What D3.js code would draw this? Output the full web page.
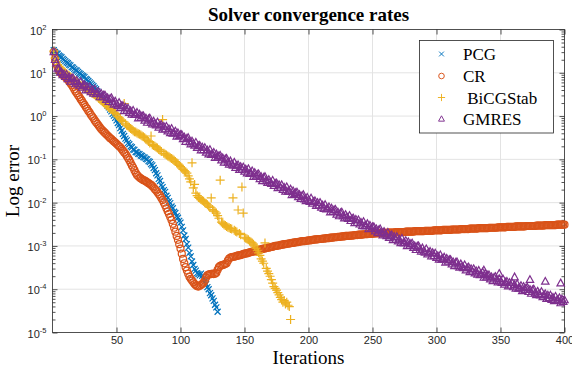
<!DOCTYPE html>
<html><head><meta charset="utf-8">
<script src="https://cdn.jsdelivr.net/npm/d3@7"></script>
<style>body{margin:0;background:#fff} svg{display:block}</style>
</head><body>
<script>
// Iteration ticks, decade ticks and series definitions
const iterTicks = [50, 100, 150, 200, 250, 300, 350, 400];
const decadeTicks = [-5, -4, -3, -2, -1, 0, 1, 2];
const seriesNames = ["PCG", "CR", " BiCGStab", "GMRES"];
const seriesColors = ["#0072BD", "#D95319", "#EDB120", "#7E2F8E"];

// log10 of the error at iterations 1, 2, 3, ...
const pcgLog = [
  1.52, 1.48, 1.45, 1.44, 1.40, 1.38, 1.36, 1.32, 1.30, 1.27,
  1.24, 1.22, 1.19, 1.17, 1.13, 1.12, 1.09, 1.06, 1.05, 1.02,
  0.99, 0.97, 0.94, 0.92, 0.90, 0.86, 0.84, 0.81, 0.78, 0.75,
  0.72, 0.69, 0.65, 0.62, 0.57, 0.54, 0.49, 0.46, 0.41, 0.37,
  0.33, 0.29, 0.24, 0.20, 0.15, 0.11, 0.05, 0.01, -0.04, -0.10,
  -0.16, -0.21, -0.28, -0.34, -0.41, -0.46, -0.52, -0.56, -0.62, -0.65,
  -0.70, -0.72, -0.77, -0.78, -0.83, -0.84, -0.87, -0.88, -0.91, -0.92,
  -0.95, -0.96, -0.99, -1.00, -1.04, -1.06, -1.11, -1.14, -1.20, -1.25,
  -1.32, -1.37, -1.45, -1.50, -1.59, -1.64, -1.71, -1.75, -1.84, -1.89,
  -1.97, -2.01, -2.09, -2.13, -2.21, -2.24, -2.31, -2.35, -2.42, -2.46,
  -2.56, -2.64, -2.76, -2.84, -2.96, -3.04, -3.16, -3.24, -3.36, -3.44,
  -3.53, -3.57, -3.63, -3.65, -3.68, -3.64, -3.69, -3.75, -3.82, -3.88,
  -3.95, -4.00, -4.09, -4.14, -4.21, -4.27, -4.36, -4.42, -4.52
];

const crLog = [
  1.48, 1.32, 1.20, 1.12, 1.06, 1.02, 0.98, 0.95, 0.93, 0.90,
  0.87, 0.84, 0.80, 0.76, 0.72, 0.67, 0.62, 0.57, 0.53, 0.48,
  0.44, 0.39, 0.35, 0.30, 0.26, 0.21, 0.17, 0.12, 0.08, 0.03,
  -0.01, -0.05, -0.10, -0.14, -0.18, -0.22, -0.26, -0.30, -0.33, -0.36,
  -0.39, -0.42, -0.45, -0.48, -0.51, -0.53, -0.56, -0.59, -0.61, -0.64,
  -0.67, -0.70, -0.72, -0.76, -0.80, -0.84, -0.87, -0.92, -0.97, -1.02,
  -1.08, -1.14, -1.19, -1.25, -1.31, -1.36, -1.39, -1.42, -1.44, -1.46,
  -1.48, -1.49, -1.51, -1.53, -1.55, -1.57, -1.59, -1.62, -1.65, -1.69,
  -1.72, -1.76, -1.80, -1.84, -1.89, -1.94, -2.00, -2.06, -2.13, -2.20,
  -2.26, -2.33, -2.40, -2.49, -2.58, -2.67, -2.77, -2.86, -2.96, -3.06,
  -3.18, -3.30, -3.40, -3.49, -3.57, -3.64, -3.71, -3.76, -3.80, -3.84,
  -3.88, -3.91, -3.93, -3.94, -3.92, -3.90, -3.88, -3.85, -3.80, -3.73,
  -3.68, -3.66, -3.65, -3.65, -3.64, -3.65, -3.64, -3.62, -3.55, -3.49,
  -3.46, -3.45, -3.44, -3.43, -3.42, -3.40, -3.34, -3.29, -3.27, -3.26,
  -3.25, -3.25, -3.24, -3.23, -3.22, -3.22, -3.21, -3.20, -3.19, -3.18,
  -3.17, -3.17, -3.16, -3.15, -3.14, -3.13, -3.13, -3.12, -3.11, -3.10,
  -3.09, -3.09, -3.08, -3.07, -3.06, -3.06, -3.05, -3.04, -3.04, -3.03,
  -3.02, -3.02, -3.01, -3.00, -3.00, -2.99, -2.99, -2.98, -2.97, -2.97,
  -2.96, -2.96, -2.95, -2.95, -2.94, -2.94, -2.93, -2.93, -2.92, -2.92,
  -2.91, -2.91, -2.90, -2.90, -2.89, -2.89, -2.89, -2.88, -2.88, -2.87,
  -2.87, -2.87, -2.86, -2.86, -2.85, -2.85, -2.85, -2.84, -2.84, -2.84,
  -2.83, -2.83, -2.83, -2.82, -2.82, -2.82, -2.81, -2.81, -2.81, -2.80,
  -2.80, -2.80, -2.79, -2.79, -2.79, -2.78, -2.78, -2.78, -2.77, -2.77,
  -2.77, -2.77, -2.76, -2.76, -2.76, -2.75, -2.75, -2.75, -2.74, -2.74,
  -2.74, -2.74, -2.73, -2.73, -2.73, -2.73, -2.72, -2.72, -2.72, -2.72,
  -2.71, -2.71, -2.71, -2.70, -2.71, -2.70, -2.70, -2.70, -2.70, -2.70,
  -2.70, -2.69, -2.69, -2.69, -2.69, -2.69, -2.69, -2.68, -2.69, -2.68,
  -2.68, -2.68, -2.68, -2.68, -2.68, -2.67, -2.67, -2.67, -2.67, -2.67,
  -2.67, -2.67, -2.66, -2.66, -2.66, -2.66, -2.66, -2.66, -2.66, -2.66,
  -2.65, -2.65, -2.65, -2.65, -2.65, -2.65, -2.65, -2.64, -2.64, -2.64,
  -2.64, -2.64, -2.64, -2.64, -2.63, -2.63, -2.63, -2.63, -2.63, -2.63,
  -2.63, -2.62, -2.62, -2.62, -2.62, -2.62, -2.62, -2.62, -2.61, -2.61,
  -2.61, -2.61, -2.61, -2.61, -2.61, -2.60, -2.60, -2.60, -2.60, -2.60,
  -2.60, -2.60, -2.59, -2.59, -2.59, -2.59, -2.59, -2.59, -2.59, -2.59,
  -2.58, -2.58, -2.58, -2.58, -2.58, -2.58, -2.58, -2.57, -2.57, -2.57,
  -2.57, -2.57, -2.57, -2.57, -2.56, -2.56, -2.56, -2.56, -2.56, -2.56,
  -2.56, -2.55, -2.55, -2.55, -2.55, -2.55, -2.55, -2.55, -2.55, -2.54,
  -2.54, -2.54, -2.54, -2.54, -2.54, -2.54, -2.54, -2.53, -2.53, -2.53,
  -2.53, -2.53, -2.53, -2.53, -2.52, -2.52, -2.52, -2.52, -2.52, -2.52,
  -2.52, -2.52, -2.52, -2.51, -2.51, -2.51, -2.51, -2.51, -2.51, -2.51
];

const bicgLog = [
  1.50, 1.34, 1.25, 1.19, 1.15, 1.11, 1.08, 1.05, 1.03, 1.00,
  0.98, 0.95, 0.93, 0.90, 0.88, 0.86, 0.83, 0.81, 0.78, 0.76,
  0.74, 0.71, 0.69, 0.67, 0.65, 0.63, 0.61, 0.59, 0.57, 0.55,
  0.53, 0.51, 0.49, 0.47, 0.44, 0.41, 0.39, 0.36, 0.33, 0.31,
  0.28, 0.25, 0.23, 0.20, 0.17, 0.15, 0.12, 0.09, 0.06, 0.03,
  -0.01, -0.04, -0.07, -0.10, -0.13, 0.29, -0.18, -0.21, -0.23, -0.26,
  -0.29, -0.31, -0.34, -0.36, -0.37, -0.39, -0.41, -0.42, -0.44, -0.46,
  -0.48, -0.50, -0.53, -0.56, -0.59, -0.62, -0.46, -0.66, -0.68, -0.70,
  -0.72, -0.74, -0.77, -0.79, -0.82, -0.08, -0.86, -0.88, -0.90, -0.92,
  -0.94, -0.96, -0.98, -1.00, -1.02, -1.05, -1.08, -1.11, -1.14, -1.17,
  -1.20, -1.23, -1.26, -1.29, -1.32, -1.38, -1.45, -1.52, -1.08, -1.66,
  -1.58, -1.78, -1.84, -1.88, -1.90, -1.93, -1.95, -1.97, -2.00, -2.02,
  -2.05, -2.08, -2.11, -1.89, -2.16, -2.19, -2.21, -2.24, -2.30, -2.36,
  -1.48, -2.45, -2.48, -2.51, -2.53, -2.55, -2.57, -2.58, -2.60, -2.61,
  -1.89, -2.64, -2.66, -2.68, -2.17, -2.71, -2.74, -1.64, -2.24, -2.80,
  -2.82, -2.84, -2.86, -2.89, -2.91, -2.93, -2.96, -3.00, -3.05, -3.10,
  -3.16, -3.22, -3.30, -3.35, -3.40, -2.93, -3.52, -3.58, -3.64, -3.70,
  -3.78, -3.86, -3.94, -3.98, -4.02, -4.08, -4.13, -4.19, -4.24, -4.30,
  -4.26, -4.34, -4.30, -4.37, -4.40, -4.70
];

const gmresLog = [
  1.48, 1.30, 1.22, 1.10, 1.08, 1.01, 1.02, 0.95, 0.97, 0.91,
  0.96, 0.86, 0.90, 0.80, 0.87, 0.88, 0.79, 0.74, 0.82, 0.75,
  0.71, 0.79, 0.66, 0.71, 0.72, 0.60, 0.68, 0.61, 0.67, 0.56,
  0.61, 0.52, 0.62, 0.51, 0.52, 0.56, 0.44, 0.52, 0.44, 0.48,
  0.48, 0.38, 0.42, 0.33, 0.40, 0.42, 0.32, 0.27, 0.34, 0.28,
  0.24, 0.31, 0.19, 0.23, 0.24, 0.12, 0.20, 0.13, 0.18, 0.08,
  0.12, 0.04, 0.13, 0.03, 0.03, 0.08, -0.05, 0.04, -0.04, 0.00,
  0.00, -0.10, -0.05, -0.15, -0.07, -0.05, -0.15, -0.19, -0.12, -0.18,
  -0.21, -0.14, -0.26, -0.21, -0.20, -0.31, -0.24, -0.30, -0.24, -0.35,
  -0.30, -0.39, -0.29, -0.40, -0.39, -0.35, -0.47, -0.39, -0.46, -0.43,
  -0.43, -0.53, -0.49, -0.59, -0.52, -0.50, -0.60, -0.65, -0.58, -0.64,
  -0.68, -0.61, -0.73, -0.69, -0.68, -0.79, -0.72, -0.78, -0.73, -0.84,
  -0.79, -0.88, -0.78, -0.89, -0.88, -0.84, -0.96, -0.88, -0.95, -0.92,
  -0.91, -1.02, -0.97, -1.07, -0.99, -0.98, -1.07, -1.12, -1.04, -1.11,
  -1.14, -1.07, -1.19, -1.14, -1.13, -1.24, -1.17, -1.23, -1.18, -1.28,
  -1.23, -1.32, -1.22, -1.33, -1.32, -1.27, -1.40, -1.31, -1.39, -1.35,
  -1.34, -1.45, -1.40, -1.50, -1.42, -1.40, -1.50, -1.54, -1.47, -1.53,
  -1.56, -1.49, -1.61, -1.56, -1.55, -1.66, -1.59, -1.65, -1.59, -1.70,
  -1.65, -1.74, -1.64, -1.74, -1.74, -1.69, -1.82, -1.73, -1.80, -1.77,
  -1.76, -1.87, -1.82, -1.91, -1.84, -1.82, -1.92, -1.96, -1.88, -1.94,
  -1.98, -1.90, -2.02, -1.98, -1.96, -2.07, -2.00, -2.06, -2.00, -2.11,
  -2.06, -2.14, -2.05, -2.15, -2.14, -2.10, -2.22, -2.13, -2.21, -2.17,
  -2.16, -2.27, -2.22, -2.31, -2.24, -2.22, -2.31, -2.36, -2.28, -2.34,
  -2.37, -2.30, -2.42, -2.37, -2.36, -2.47, -2.39, -2.46, -2.40, -2.50,
  -2.46, -2.54, -2.44, -2.54, -2.54, -2.49, -2.61, -2.53, -2.60, -2.56,
  -2.56, -2.66, -2.61, -2.70, -2.63, -2.61, -2.70, -2.75, -2.67, -2.73,
  -2.77, -2.69, -2.81, -2.77, -2.75, -2.86, -2.79, -2.85, -2.79, -2.89,
  -2.85, -2.93, -2.83, -2.93, -2.93, -2.88, -3.00, -2.91, -2.99, -2.95,
  -2.94, -3.04, -3.00, -3.09, -3.01, -3.00, -3.09, -3.13, -3.05, -3.12,
  -3.15, -3.07, -3.19, -3.15, -3.13, -3.24, -3.16, -3.23, -3.17, -3.27,
  -3.23, -3.31, -3.21, -3.31, -3.30, -3.26, -3.38, -3.29, -3.36, -3.32,
  -3.32, -3.42, -3.37, -3.46, -3.38, -3.37, -3.46, -3.50, -3.42, -3.48,
  -3.51, -3.44, -3.56, -3.51, -3.49, -3.60, -3.53, -3.59, -3.53, -3.63,
  -3.58, -3.66, -3.57, -3.67, -3.66, -3.61, -3.73, -3.64, -3.72, -3.68,
  -3.67, -3.77, -3.72, -3.81, -3.73, -3.71, -3.80, -3.84, -3.76, -3.82,
  -3.85, -3.77, -3.89, -3.84, -3.82, -3.93, -3.85, -3.91, -3.85, -3.95,
  -3.90, -3.98, -3.88, -3.98, -3.97, -3.92, -4.04, -3.94, -4.01, -3.97,
  -3.96, -4.06, -4.01, -4.10, -4.02, -4.00, -4.09, -4.13, -4.05, -4.11,
  -4.14, -4.06, -4.18, -4.13, -4.11, -4.22, -4.14, -4.20, -4.14, -4.24,
  -4.19, -4.27, -4.17, -4.26, -4.25, -4.20, -4.32, -4.23, -4.29, -4.25
];

// GMRES outer-cycle residuals (iteration, log10 error)
const gmresRestartIter = [337, 349, 361, 373, 385, 397];
const gmresRestartLog = [-3.56, -3.64, -3.72, -3.78, -3.82, -3.86];

const W = 572, H = 374;
const plot = { left: 52.5, right: 564.5, top: 29.5, bottom: 332.5 };
const ink = "#262626";
const sans = "'Liberation Sans', Arial, sans-serif";
const serif = "'Liberation Serif', 'Times New Roman', serif";

const svg = d3.select("body").append("svg").attr("width", W).attr("height", H)
  .style("font-family", sans);

const x = d3.scaleLinear().domain([0, 400]).range([plot.left, plot.right]);
const y = d3.scaleLog().domain([1e-5, 1e2]).range([plot.bottom, plot.top]);
const majorY = decadeTicks.map(k => Math.pow(10, k));
const minorY = [];
decadeTicks.slice(0, -1).forEach(k => { for (let m = 2; m <= 9; m++) minorY.push(m * Math.pow(10, k)); });

// grid
const grid = svg.append("g");
grid.selectAll(".gx").data(iterTicks.filter(t => t < 400)).join("line")
  .attr("x1", d => x(d)).attr("x2", d => x(d)).attr("y1", plot.top).attr("y2", plot.bottom)
  .attr("stroke", "#e3e3e3").attr("stroke-width", 1);
grid.selectAll(".gy").data(majorY.slice(1, -1)).join("line")
  .attr("y1", d => y(d)).attr("y2", d => y(d)).attr("x1", plot.left).attr("x2", plot.right)
  .attr("stroke", "#e3e3e3").attr("stroke-width", 1);

// axes
function styleAxis(g) {
  g.select(".domain").remove();
  g.selectAll(".tick line").attr("stroke", ink).attr("stroke-width", 0.8);
  g.selectAll(".tick text").attr("fill", ink);
}
svg.append("g").attr("transform", `translate(0,${plot.bottom})`)
  .call(d3.axisBottom(x).tickValues(iterTicks).tickSizeInner(-5).tickSizeOuter(0).tickPadding(4))
  .call(styleAxis)
  .call(g => g.selectAll("text").attr("font-size", 11).attr("font-family", sans));
svg.append("g").attr("transform", `translate(0,${plot.top})`)
  .call(d3.axisTop(x).tickValues(iterTicks).tickSizeInner(-5).tickSizeOuter(0).tickFormat(""))
  .call(styleAxis);

svg.append("g").attr("transform", `translate(${plot.left},0)`)
  .call(d3.axisLeft(y).tickValues(majorY).tickSizeInner(-5).tickSizeOuter(0).tickFormat(""))
  .call(styleAxis);
svg.append("g").attr("transform", `translate(${plot.left},0)`)
  .call(d3.axisLeft(y).tickValues(minorY).tickSizeInner(-3).tickSizeOuter(0).tickFormat(""))
  .call(styleAxis);
svg.append("g").attr("transform", `translate(${plot.right},0)`)
  .call(d3.axisRight(y).tickValues(majorY).tickSizeInner(-5).tickSizeOuter(0).tickFormat(""))
  .call(styleAxis);
svg.append("g").attr("transform", `translate(${plot.right},0)`)
  .call(d3.axisRight(y).tickValues(minorY).tickSizeInner(-3).tickSizeOuter(0).tickFormat(""))
  .call(styleAxis);

// power-of-ten labels
const yLab = svg.append("g").attr("fill", ink).attr("font-size", 11);
decadeTicks.forEach(k => {
  const t = yLab.append("text").attr("x", plot.left - 6).attr("y", y(Math.pow(10, k)) + 5)
    .attr("text-anchor", "end");
  t.append("tspan").text("10");
  t.append("tspan").attr("dy", -5).attr("font-size", 7.5).text(String(k));
});

// box
svg.append("rect").attr("x", plot.left).attr("y", plot.top)
  .attr("width", plot.right - plot.left).attr("height", plot.bottom - plot.top)
  .attr("fill", "none").attr("stroke", ink).attr("stroke-width", 0.8);

// markers
const markerPaths = {
  cross: "M-3,-3L3,3M-3,3L3,-3",
  circle: "M3.5,0A3.5,3.5 0 1,1 -3.5,0A3.5,3.5 0 1,1 3.5,0Z",
  plus: "M-4.5,0H4.5M0,-4.5V4.5",
  triangle: "M0,-4L3.7,2.7L-3.7,2.7Z"
};
const markerKinds = ["cross", "circle", "plus", "triangle"];

function drawSeries(vals, iters, kind, color) {
  svg.append("g").selectAll("path").data(vals).join("path")
    .attr("transform", (d, i) => `translate(${x(iters ? iters[i] : i + 1)},${y(Math.pow(10, d))})`)
    .attr("d", markerPaths[kind])
    .attr("fill", "none").attr("stroke", color).attr("stroke-width", 1.2);
}
drawSeries(pcgLog, null, "cross", seriesColors[0]);
drawSeries(crLog, null, "circle", seriesColors[1]);
drawSeries(bicgLog, null, "plus", seriesColors[2]);
drawSeries(gmresLog, null, "triangle", seriesColors[3]);
drawSeries(gmresRestartLog, gmresRestartIter, "triangle", seriesColors[3]);

// titles
svg.append("text").attr("x", (plot.left + plot.right) / 2).attr("y", 21)
  .attr("text-anchor", "middle").attr("font-family", serif).attr("font-weight", "bold")
  .attr("font-size", 19).attr("fill", "#000").text("Solver convergence rates");
svg.append("text").attr("x", (plot.left + plot.right) / 2).attr("y", 364)
  .attr("text-anchor", "middle").attr("font-family", serif)
  .attr("font-size", 19).attr("fill", "#000").text("Iterations");
svg.append("text").attr("transform", `translate(19,${(plot.top + plot.bottom) / 2}) rotate(-90)`)
  .attr("text-anchor", "middle").attr("font-family", serif)
  .attr("font-size", 19).attr("fill", "#000").text("Log error");

// legend
const leg = svg.append("g");
leg.append("rect").attr("x", 419.5).attr("y", 40.5).attr("width", 134).attr("height", 92.5)
  .attr("fill", "#fff").attr("stroke", ink).attr("stroke-width", 0.8);
const rowY = [54, 76, 97.5, 119];
seriesNames.forEach((name, i) => {
  leg.append("path").attr("transform", `translate(441.5,${rowY[i]}) scale(0.8)`)
    .attr("d", markerPaths[markerKinds[i]]).attr("fill", "none")
    .attr("stroke", seriesColors[i]).attr("stroke-width", 1.2);
  leg.append("text").attr("x", 463).attr("y", rowY[i] + 6)
    .attr("font-family", serif).attr("font-size", 17).attr("fill", "#000")
    .attr("xml:space", "preserve").style("white-space", "pre").text(name);
});
</script>
</body></html>
